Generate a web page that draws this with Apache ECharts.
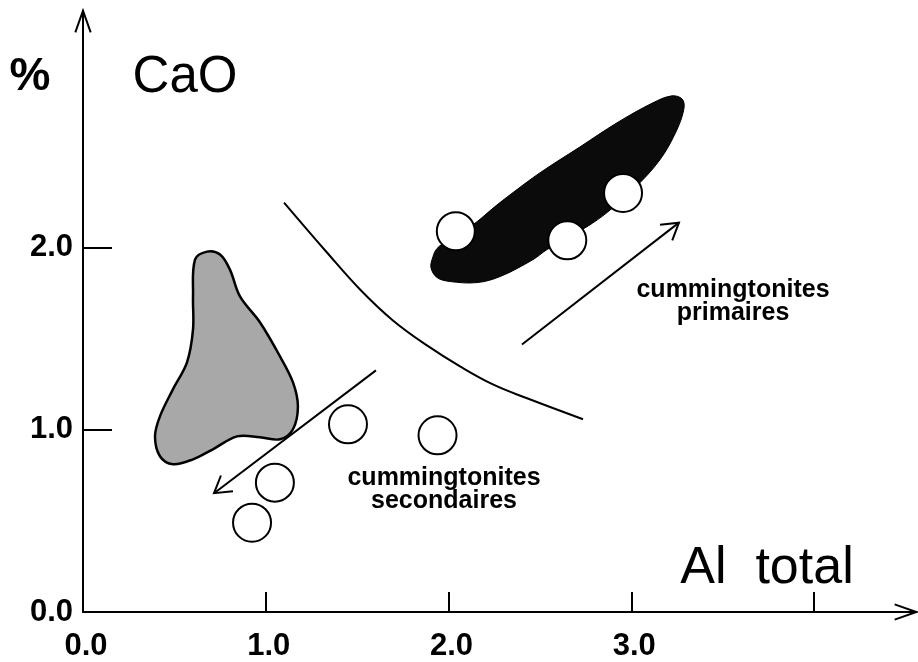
<!DOCTYPE html>
<html>
<head>
<meta charset="utf-8">
<script src="https://cdn.jsdelivr.net/npm/echarts@6/dist/echarts.min.js"></script>
<style>
  html, body { margin: 0; padding: 0; background: #fff; }
  #chart { width: 918px; height: 662px; }
</style>
</head>
<body>
<div id="chart"></div>
<script>
// ---- data (in axis units: Al total / % CaO) ----
const xTickValues = [1, 2, 3, 4];
const xLabelValues = [0, 1, 2, 3];
const xTickLabels = ['0.0', '1.0', '2.0', '3.0'];
const yTickValues = [1, 2];
const yLabelValues = [0, 1, 2];
const yTickLabels = ['0.0', '1.0', '2.0'];

// open circles: cummingtonites secondaires
const secondairesX = [0.925, 1.05, 1.45, 1.94];
const secondairesY = [0.49, 0.71, 1.03, 0.97];
// open circles: cummingtonites primaires
const primairesX = [2.04, 2.65, 2.955];
const primairesY = [2.09, 2.04, 2.30];

// grey field outline
const greyField = [
  [0.679, 1.978], [0.613, 1.934], [0.602, 1.732], [0.602, 1.551], [0.569, 1.370],
  [0.492, 1.222], [0.421, 1.074], [0.394, 0.964], [0.421, 0.855], [0.492, 0.811],
  [0.602, 0.838], [0.711, 0.893], [0.843, 0.964], [0.969, 0.959], [1.078, 0.948],
  [1.149, 1.003], [1.176, 1.129], [1.149, 1.260], [1.078, 1.403], [0.969, 1.589],
  [0.859, 1.732], [0.804, 1.879], [0.750, 1.962]
];
// black field outline
const blackField = [
  [1.904, 1.890], [1.915, 1.950], [1.937, 1.995], [1.997, 2.040], [2.074, 2.085],
  [2.156, 2.142], [2.254, 2.225], [2.337, 2.290], [2.501, 2.411], [2.720, 2.553],
  [2.922, 2.685], [3.119, 2.795], [3.223, 2.833], [3.278, 2.816], [3.289, 2.767],
  [3.250, 2.647], [3.157, 2.482], [3.010, 2.318], [2.867, 2.192], [2.758, 2.115],
  [2.539, 1.989], [2.462, 1.934], [2.282, 1.841], [2.156, 1.808], [2.008, 1.814],
  [1.937, 1.836]
];
// separating curve
const boundaryCurve = [
  [1.10, 2.247], [1.335, 1.973], [1.516, 1.770], [1.696, 1.600], [1.882, 1.463],
  [2.063, 1.348], [2.243, 1.249], [2.430, 1.173], [2.736, 1.058]
];
// trend arrows [xFrom, yFrom, xTo, yTo]
const trendArrows = [
  [1.603, 1.326, 0.717, 0.652],
  [2.402, 1.468, 3.261, 2.137]
];
// axis extents (arrow tips)
const xMax = 4.56;
const yMax = 3.30;
const axisArrows = [
  [0, 3.1, 0, yMax],
  [4.3, 0, xMax, 0]
];

const FONT = 'Liberation Sans, Arial, sans-serif';

function fieldRender(points, style) {
  return function (params, api) {
    if (params.dataIndex !== 0) return null;
    const pts = points.map(p => api.coord(p));
    return { type: 'polygon', shape: { points: pts, smooth: 0.35 }, style: style };
  };
}

function curveRender(points) {
  return function (params, api) {
    if (params.dataIndex !== 0) return null;
    const pts = points.map(p => api.coord(p));
    return { type: 'polyline', shape: { points: pts, smooth: 0.4 },
      style: { stroke: '#000', lineWidth: 2, fill: null } };
  };
}

function arrowRender(headLen, halfAngle, drawShaft) {
  return function (params, api) {
    const a = api.coord([api.value(0), api.value(1)]);
    const b = api.coord([api.value(2), api.value(3)]);
    const ang = Math.atan2(b[1] - a[1], b[0] - a[0]);
    const h1 = [b[0] - headLen * Math.cos(ang - halfAngle), b[1] - headLen * Math.sin(ang - halfAngle)];
    const h2 = [b[0] - headLen * Math.cos(ang + halfAngle), b[1] - headLen * Math.sin(ang + halfAngle)];
    const children = [];
    if (drawShaft) {
      children.push({ type: 'line', shape: { x1: a[0], y1: a[1], x2: b[0], y2: b[1] },
        style: { stroke: '#000', lineWidth: 2 } });
    }
    children.push({ type: 'polyline', shape: { points: [h1, b, h2] },
      style: { stroke: '#000', lineWidth: 2, fill: null } });
    return { type: 'group', children: children };
  };
}

const chart = echarts.init(document.getElementById('chart'), null, { renderer: 'canvas' });

const option = {
  backgroundColor: '#fff',
  animation: false,
  grid: { left: 83, right: 918 - 83 - xMax * 182.75, top: 613 - yMax * 182.5, bottom: 49, containLabel: false },
  xAxis: {
    type: 'value', min: 0, max: xMax, interval: 1,
    splitLine: { show: false },
    axisLine: { show: true, onZero: false, lineStyle: { color: '#000', width: 2 } },
    axisTick: { show: true, inside: true, length: 20, customValues: xTickValues, lineStyle: { color: '#000', width: 2 } },
    axisLabel: {
      customValues: xLabelValues, margin: 19, color: '#000', fontSize: 31, fontWeight: 'bold', fontFamily: FONT,
      padding: [0, 0, 0, 6],
      formatter: v => xTickLabels[xLabelValues.indexOf(v)]
    }
  },
  yAxis: {
    type: 'value', min: 0, max: yMax, interval: 1,
    splitLine: { show: false },
    axisLine: { show: true, onZero: false, lineStyle: { color: '#000', width: 2 } },
    axisTick: { show: true, inside: true, length: 29, customValues: yTickValues, lineStyle: { color: '#000', width: 2 } },
    axisLabel: {
      customValues: yLabelValues, margin: 10, color: '#000', fontSize: 31, fontWeight: 'bold', fontFamily: FONT,
      padding: [0, 0, 22, 0],
      formatter: v => yTickLabels[yLabelValues.indexOf(v)]
    }
  },
  graphic: [
    { type: 'text', x: 30, y: 77, style: { text: '%', font: 'bold 46px ' + FONT, fill: '#000',
      align: 'center', verticalAlign: 'middle', textAlign: 'center', textVerticalAlign: 'middle' } },
    { type: 'text', x: 185, y: 78, style: { text: 'CaO', font: '51px ' + FONT, fill: '#000',
      align: 'center', verticalAlign: 'middle', textAlign: 'center', textVerticalAlign: 'middle' } },
    { type: 'text', x: 767, y: 569, style: { text: 'Al  total', font: '52px ' + FONT, fill: '#000',
      align: 'center', verticalAlign: 'middle', textAlign: 'center', textVerticalAlign: 'middle' } },
    { type: 'text', x: 733, y: 302, style: { text: 'cummingtonites\nprimaires', font: 'bold 25px ' + FONT, fill: '#000',
      lineHeight: 23, align: 'center', verticalAlign: 'middle', textAlign: 'center', textVerticalAlign: 'middle' } },
    { type: 'text', x: 444, y: 490, style: { text: 'cummingtonites\nsecondaires', font: 'bold 25px ' + FONT, fill: '#000',
      lineHeight: 23, align: 'center', verticalAlign: 'middle', textAlign: 'center', textVerticalAlign: 'middle' } }
  ],
  series: [
    {
      name: 'grey field', type: 'custom', coordinateSystem: 'cartesian2d', z: 2,
      data: greyField,
      renderItem: fieldRender(greyField, { fill: '#a8a8a8', stroke: '#000', lineWidth: 2.5 })
    },
    {
      name: 'black field', type: 'custom', coordinateSystem: 'cartesian2d', z: 2,
      data: blackField,
      renderItem: fieldRender(blackField, { fill: '#0b0b0b', stroke: '#000', lineWidth: 1 })
    },
    {
      name: 'boundary', type: 'custom', coordinateSystem: 'cartesian2d', z: 3,
      data: boundaryCurve,
      renderItem: curveRender(boundaryCurve)
    },
    {
      name: 'trend arrows', type: 'custom', coordinateSystem: 'cartesian2d', z: 3,
      data: trendArrows,
      renderItem: arrowRender(19, 0.55, true)
    },
    {
      name: 'axis arrows', type: 'custom', coordinateSystem: 'cartesian2d', z: 3,
      data: axisArrows,
      renderItem: arrowRender(23, 0.34, false)
    },
    {
      name: 'secondaires', type: 'scatter', symbol: 'circle', symbolSize: 38, z: 5,
      data: secondairesX.map((x, i) => [x, secondairesY[i]]),
      itemStyle: { color: '#fff', borderColor: '#000', borderWidth: 2, opacity: 1 }
    },
    {
      name: 'primaires', type: 'scatter', symbol: 'circle', symbolSize: 38, z: 5,
      data: primairesX.map((x, i) => [x, primairesY[i]]),
      itemStyle: { color: '#fff', borderColor: '#000', borderWidth: 2, opacity: 1 }
    }
  ]
};

chart.setOption(option);
</script>
</body>
</html>
